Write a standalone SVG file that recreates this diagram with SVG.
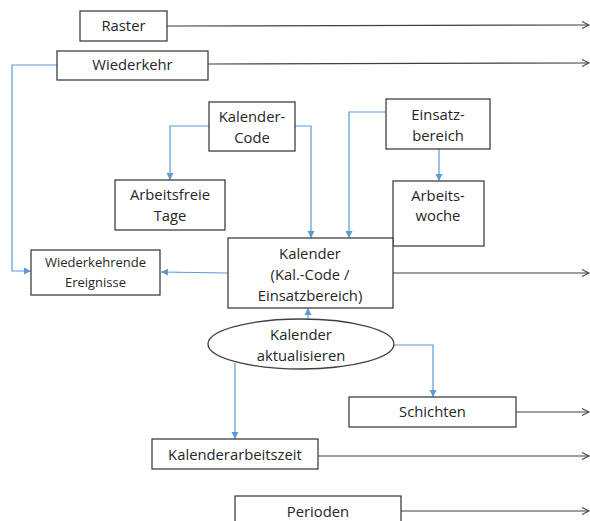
<svg xmlns="http://www.w3.org/2000/svg" width="590" height="521" viewBox="0 0 590 521">
<defs>
<marker id="open" markerWidth="10" markerHeight="10" refX="9" refY="5" orient="auto" markerUnits="userSpaceOnUse">
<path d="M2,1.5 L9,5 L2,8.5" fill="none" stroke="#404040" stroke-width="1.1"/>
</marker>
<marker id="blue" markerWidth="8" markerHeight="8" refX="7" refY="4" orient="auto" markerUnits="userSpaceOnUse">
<path d="M0,0.5 L7,4 L0,7.5 z" fill="#5b9bd5"/>
</marker>
</defs>
<style>
.box{fill:#fff;stroke:#404040;stroke-width:1.3}
.t{font-family:"Open Sans","Liberation Sans",sans-serif;font-size:14.8px;fill:#262626;text-anchor:middle}
.s{font-size:13px}
.k{fill:none;stroke:#404040;stroke-width:1.2;marker-end:url(#open)}
.b{fill:none;stroke:#5b9bd5;stroke-width:1.2;marker-end:url(#blue)}
</style>
<g id="connectors">
<path class="k" d="M167,26 L589,25"/>
<path class="k" d="M208,64 L589,63"/>
<path class="k" d="M393,273 L589,273"/>
<path class="k" d="M516,412 L589,412"/>
<path class="k" d="M318,456 L589,456"/>
<path class="k" d="M401,511 L589,511"/>
<path class="b" d="M57,65 L12,65 L12,271 L31,271"/>
<path class="b" d="M209,126 L170,126 L170,180"/>
<path class="b" d="M295,126 L311,126 L311,238"/>
<path class="b" d="M386,112 L349,112 L349,238"/>
<path class="b" d="M439,149 L439,181"/>
<path class="b" d="M228,273 L161,272"/>
<path class="b" d="M308,320 L308,308"/>
<path class="b" d="M394,345 L433,345 L433,397"/>
<path class="b" d="M235,363 L235,439"/>
</g>
<g id="raster"><rect class="box" x="80" y="11" width="87" height="30"/><text class="t" x="123.5" y="31">Raster</text></g>
<g id="wiederkehr"><rect class="box" x="57" y="51" width="151" height="29"/><text class="t" x="132.5" y="70">Wiederkehr</text></g>
<g id="kalender-code"><rect class="box" x="209" y="102" width="86" height="49"/><text class="t" x="252" y="122">Kalender-</text><text class="t" x="252" y="143">Code</text></g>
<g id="einsatzbereich"><rect class="box" x="386" y="99" width="104" height="50"/><text class="t" x="438" y="120">Einsatz-</text><text class="t" x="438" y="141">bereich</text></g>
<g id="arbeitsfreie-tage"><rect class="box" x="115" y="180" width="110" height="50"/><text class="t" x="170" y="200">Arbeitsfreie</text><text class="t" x="170" y="221">Tage</text></g>
<g id="arbeitswoche"><rect class="box" x="393" y="181" width="91" height="65"/><text class="t" x="438" y="201">Arbeits-</text><text class="t" x="438" y="221">woche</text></g>
<g id="kalender"><rect class="box" x="228" y="238" width="165" height="70"/><text class="t" x="310" y="259">Kalender</text><text class="t" x="310" y="280">(Kal.-Code /</text><text class="t" x="310" y="301">Einsatzbereich)</text></g>
<g id="wiederkehrende-ereignisse"><rect class="box" x="31" y="250" width="129" height="45"/><text class="t s" x="95.5" y="267">Wiederkehrende</text><text class="t s" x="95.5" y="287">Ereignisse</text></g>
<g id="kalender-aktualisieren"><ellipse class="box" cx="301" cy="344" rx="93" ry="25"/><text class="t" x="301" y="340">Kalender</text><text class="t" x="301" y="361">aktualisieren</text></g>
<g id="schichten"><rect class="box" x="349" y="397" width="167" height="30"/><text class="t" x="432.5" y="417">Schichten</text></g>
<g id="kalenderarbeitszeit"><rect class="box" x="152" y="439" width="166" height="30"/><text class="t" x="235" y="460">Kalenderarbeitszeit</text></g>
<g id="perioden"><rect class="box" x="235" y="496" width="166" height="35"/><text class="t" x="318" y="517">Perioden</text></g>
</svg>
